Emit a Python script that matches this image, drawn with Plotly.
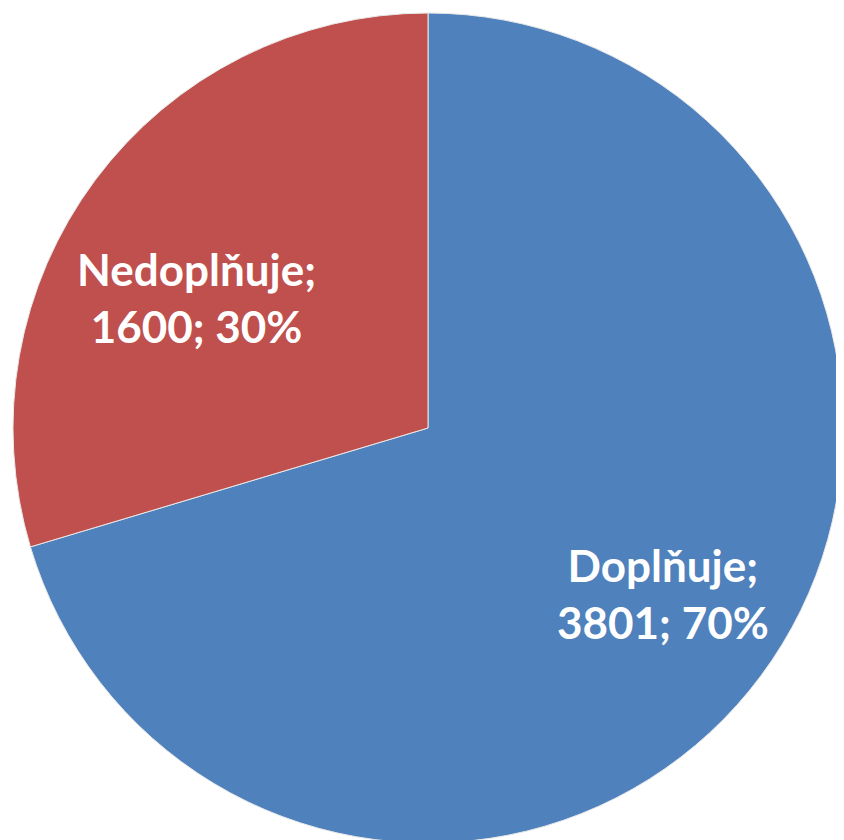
import plotly.graph_objects as go

labels = ["Doplňuje", "Nedoplňuje"]
values = [3801, 1600]
colors = ["#4F81BD", "#C0504D"]

W, H = 844, 840
OFF = 8  # page body margin

total = sum(values)
percents = [round(v / total * 100) for v in values]

fig = go.Figure()

fig.add_trace(go.Pie(
    labels=labels,
    values=values,
    sort=False,
    direction='clockwise',
    rotation=0,
    textinfo='none',
    hoverinfo='label+value+percent',
    marker=dict(colors=colors, line=dict(color='#E8E8E8', width=1)),
    domain=dict(x=[(13 - OFF) / W, (843 - OFF) / W],
                y=[1 - (843 - OFF) / H, 1 - (13 - OFF) / H]),
    showlegend=False,
))

# label positions (paper coords), one per slice
label_pos = [((663 - OFF) / W, 1 - (593 - OFF) / H),
             ((196 - OFF) / W, 1 - (297 - OFF) / H)]
for lab, val, pct, (lx, ly) in zip(labels, values, percents, label_pos):
    fig.add_annotation(
        x=lx, y=ly, xref='paper', yref='paper',
        xanchor='center', yanchor='middle',
        text=f"<b>{lab};<br>{val}; {pct}%</b>",
        showarrow=False,
        font=dict(family='Lato', size=44, color='white'),
        align='center',
    )

fig.update_layout(
    width=W,
    height=H,
    margin=dict(l=0, r=0, t=0, b=0),
    paper_bgcolor='white',
    plot_bgcolor='white',
)

fig.write_html("out.html")
